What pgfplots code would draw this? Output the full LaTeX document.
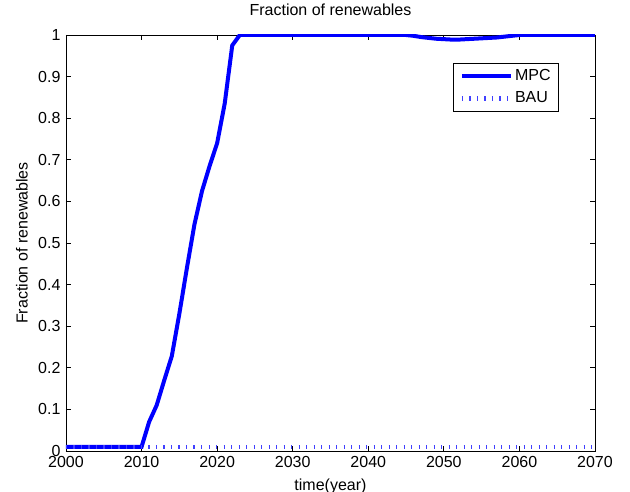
\documentclass[border=0pt]{standalone}
\usepackage{pgfplots}
\pgfplotsset{compat=1.18}
\usepackage{fontspec}
\setmainfont{Liberation Sans}
\begin{document}
\fontsize{16}{19}\selectfont
\begin{tikzpicture}
\begin{axis}[
  name=ax,
  at={(0,0)}, anchor=south west,
  scale only axis,
  width=529pt, height=416pt,
  xmin=2000, xmax=2070, ymin=0, ymax=1,
  xtick={2000,2010,...,2070},
  ytick={0,0.1,...,1.01},
  /pgf/number format/assume math mode=true,
  /pgf/number format/1000 sep={},
  xtick pos=both, ytick pos=both,
  tick align=inside,
  major tick length=5pt,
  axis line style={line width=0.8pt},
  tick style={black,line width=0.8pt},
  tick label style={font=\fontsize{16}{19}\selectfont},
  title={Fraction of renewables},
  title style={at={(axis description cs:0.5,1.03125)},anchor=base,font=\fontsize{16}{19}\selectfont},
  xlabel={time(year)},
  xlabel style={at={(axis description cs:0.5,-0.09375)},anchor=base,font=\fontsize{16}{19}\selectfont},
  ylabel={Fraction of renewables},
  ylabel style={at={(axis description cs:-0.0832,0.5)},anchor=center,font=\fontsize{16}{19}\selectfont},
  legend style={at={(axis description cs:0.932,0.933)},anchor=north east,
    draw=black,line width=0.8pt,fill=white,font=\fontsize{16}{19}\selectfont,
    inner xsep=6pt,inner ysep=4pt,row sep=5pt,
    legend cell align=left},
  legend image code/.code={\draw[#1] (0pt,0pt) -- (49pt,0pt);},
]
\addplot[blue,line width=4pt] coordinates {
(2000,0.01)(2010,0.01)(2011,0.07)(2012,0.11)(2013,0.17)(2014,0.228)
(2015,0.33)(2016,0.44)(2017,0.545)(2018,0.625)(2019,0.685)(2020,0.74)
(2021,0.835)(2022,0.975)(2023,1.0)(2045,1.0)(2046,0.998)(2047,0.995)
(2048,0.993)(2049,0.991)(2050,0.99)(2051,0.989)(2052,0.989)(2053,0.99)
(2054,0.991)(2055,0.992)(2056,0.993)(2057,0.994)(2058,0.996)(2059,0.998)
(2060,1.0)(2070,1.0)};
\addlegendentry{MPC}
\addplot[blue!75,line width=4.5pt,dash pattern=on 1.2pt off 6.3pt] coordinates {
(2000,0.01)(2070,0.01)};
\addlegendentry{BAU}
\end{axis}
\pgfresetboundingbox
\path[use as bounding box] ([shift={(-66pt,-40pt)}]ax.south west) rectangle ([shift={(564pt,451pt)}]ax.south west);
\end{tikzpicture}
\end{document}
